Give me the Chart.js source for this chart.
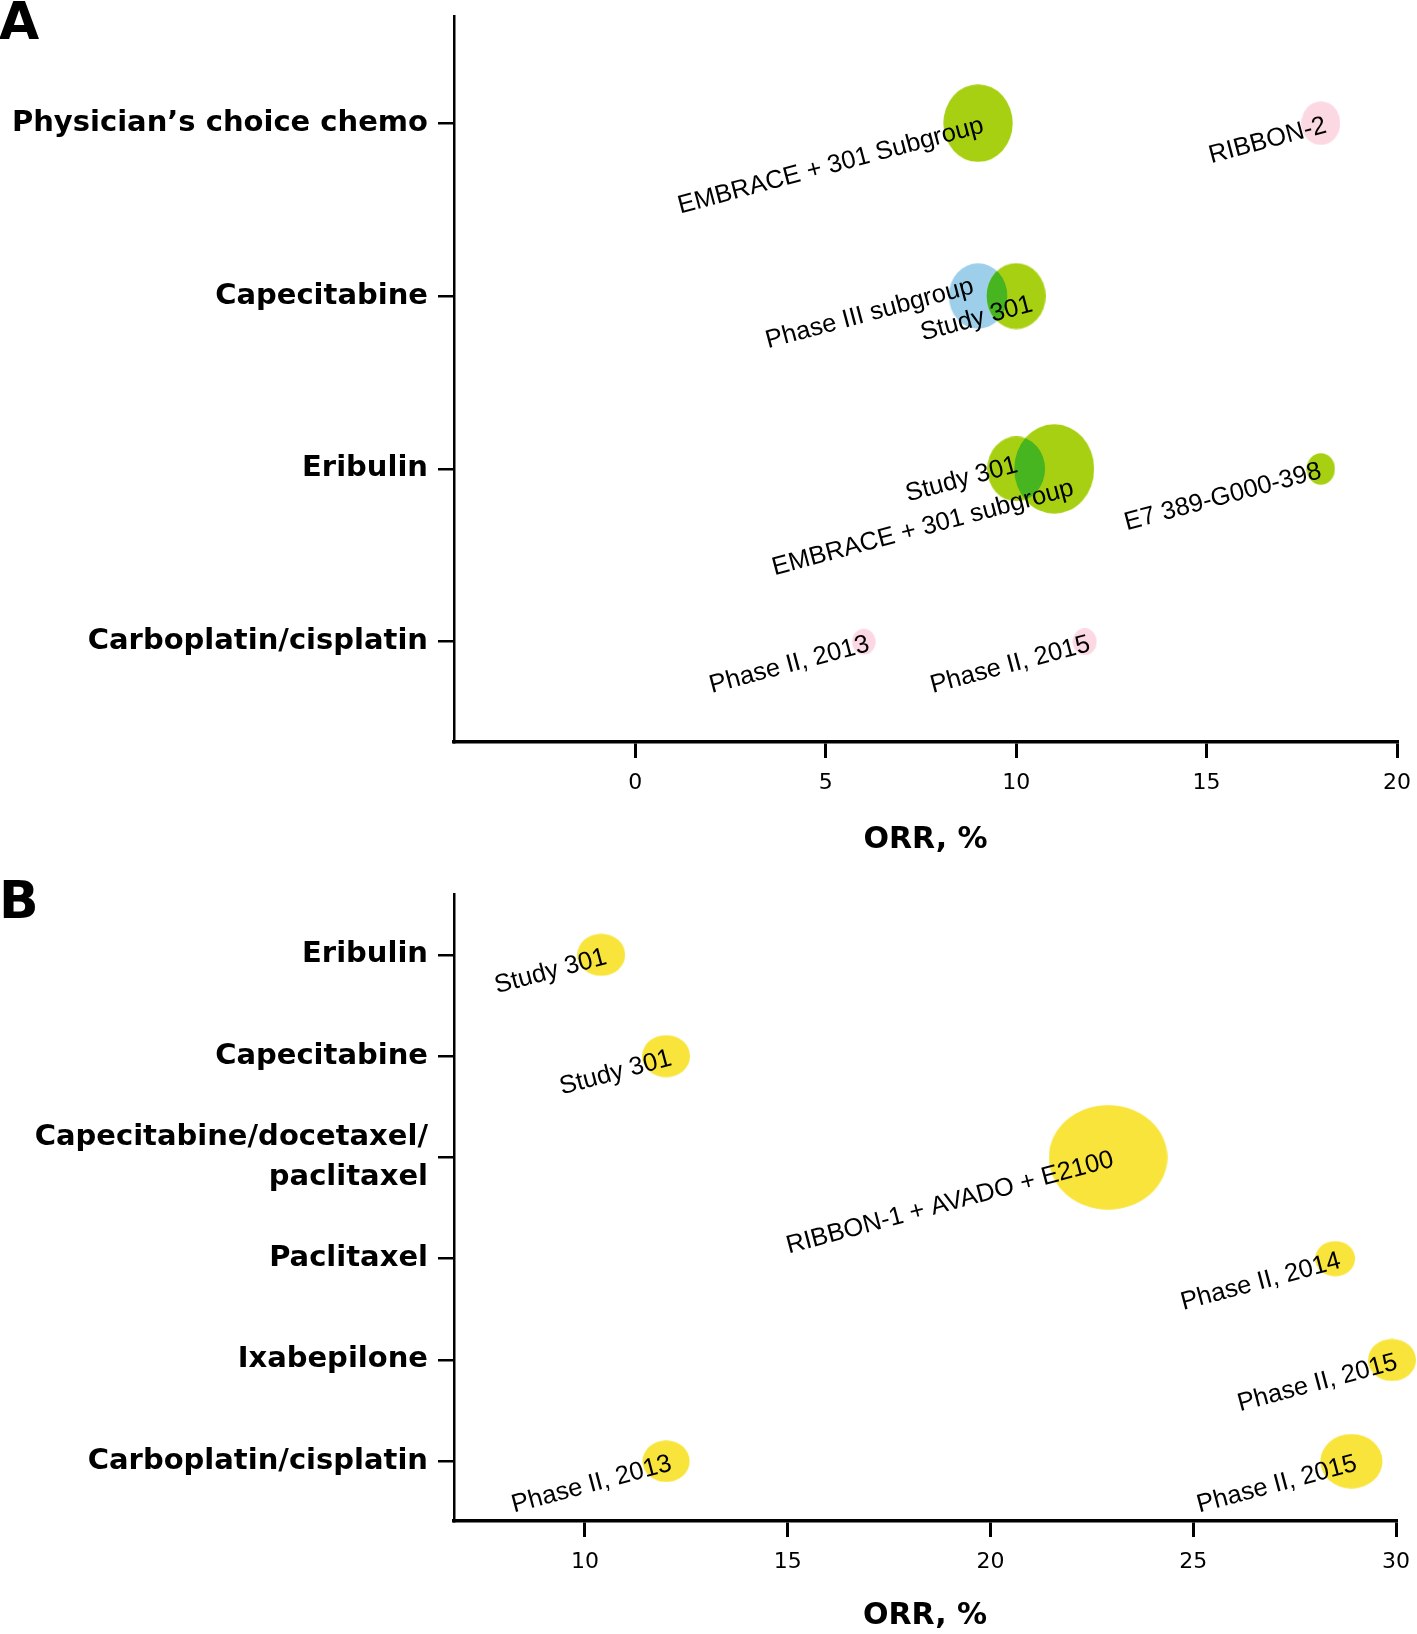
<!DOCTYPE html>
<html>
<head>
<meta charset="utf-8">
<script src="https://cdn.jsdelivr.net/npm/chart.js@4"></script>
<style>
  html, body { margin: 0; padding: 0; background: #fff; }
  #wrap { position: relative; width: 1417px; height: 1634px; }
  canvas { position: absolute; left: 0; }
  #chartA { top: 0; }
  #chartB { top: 860px; }
</style>
</head>
<body>
<div id="wrap">
  <canvas id="chartA" width="1417" height="860"></canvas>
  <canvas id="chartB" width="1417" height="774"></canvas>
</div>
<script>
// Panel A
const categoriesA = ['Physician’s choice chemo', 'Capecitabine', 'Eribulin', 'Carboplatin/cisplatin'];
const studiesA = ['EMBRACE + 301 Subgroup', 'RIBBON-2', 'Phase III subgroup', 'Study 301', 'Study 301',
  'EMBRACE + 301 subgroup', 'E7 389-G000-398', 'Phase II, 2013', 'Phase II, 2015'];
const rowsA = [0, 0, 1, 1, 2, 2, 2, 3, 3];
const orrA = [9, 18, 9, 10, 10, 11, 18, 6, 11.8];
const sizesA = [36.7, 20.6, 31, 31.2, 30.6, 42.3, 14.9, 12.4, 12.7];
const groupsA = ['green', 'pink', 'blue', 'green', 'green', 'green', 'green', 'pink', 'pink'];
const xTicksA = [0, 5, 10, 15, 20];
const xRangeA = [-4.76, 20];
const yRangeA = [-0.62, 3.58];

// Panel B
const categoriesB = ['Eribulin', 'Capecitabine', ['Capecitabine/docetaxel/', 'paclitaxel'], 'Paclitaxel',
  'Ixabepilone', 'Carboplatin/cisplatin'];
const studiesB = ['Study 301', 'Study 301', 'RIBBON-1 + AVADO + E2100', 'Phase II, 2014', 'Phase II, 2015',
  'Phase II, 2013', 'Phase II, 2015'];
const rowsB = [0, 1, 2, 3, 4, 5, 5];
const orrB = [10.4, 12, 22.9, 28.5, 29.9, 12, 28.9];
const sizesB = [22.5, 22.5, 55.6, 18.7, 22.5, 22.1, 29.1];
const groupsB = ['yellow', 'yellow', 'yellow', 'yellow', 'yellow', 'yellow', 'yellow'];
const xTicksB = [10, 15, 20, 25, 30];
const xRangeB = [6.77, 30];
const yRangeB = [-0.6, 5.59];

const FONT = '"DejaVu Sans", sans-serif';
const NOTE_FONT = '"Liberation Sans", Arial, sans-serif';
const colours = { green: '#a8d012', blue: '#9dcfeb', pink: '#fcd9e2', yellow: '#f8e43a' };
const OVERLAP = '#47b51f';

// bubbles in the source are slightly oval; draw them as ellipse sprites
const sprites = {};
function sprite(r, k, colour){
  const key = r + '|' + k + '|' + colour;
  if (sprites[key]) return sprites[key];
  const rx = r / Math.sqrt(k), ry = r * Math.sqrt(k);
  const c = document.createElement('canvas');
  c.width = Math.ceil(rx * 2);
  c.height = Math.ceil(ry * 2);
  const g = c.getContext('2d');
  g.fillStyle = colour;
  g.beginPath();
  g.ellipse(c.width / 2, c.height / 2, rx, ry, 0, 0, Math.PI * 2);
  g.fill();
  return (sprites[key] = c);
}

function datasetsFor(names, rows, orr, sizes, groups, k){
  const order = [...new Set(groups)];
  return order.map(g => ({
    label: g,
    data: names.map((n, i) => ({ x: orr[i], y: rows[i], r: sizes[i], name: n }))
               .filter((_, i) => groups[i] === g),
    backgroundColor: colours[g],
    borderWidth: 0,
    pointStyle: c => (c.raw ? sprite(c.raw.r, k, colours[g]) : 'circle'),
    clip: false
  }));
}

// overlap lens, rotated study labels, panel letter
function notesPlugin(p){
  return {
    id: 'studyNotes',
    afterDatasetsDraw(chart){
      const ctx = chart.ctx;
      const k = p.stretch;
      const pts = [];
      chart.data.datasets.forEach((ds, di) => {
        chart.getDatasetMeta(di).data.forEach((el, i) => pts.push({ x: el.x, y: el.y, d: ds.data[i] }));
      });
      const ell = (q) => {
        ctx.beginPath();
        ctx.ellipse(q.x, q.y, q.d.r / Math.sqrt(k), q.d.r * Math.sqrt(k), 0, 0, Math.PI * 2);
      };
      pts.forEach((a, i) => pts.slice(i + 1).forEach(b => {
        if (a.d.y !== b.d.y) return;
        if (Math.abs(a.x - b.x) >= (a.d.r + b.d.r) / Math.sqrt(k)) return;
        ctx.save();
        ell(a); ctx.clip();
        ell(b); ctx.fillStyle = OVERLAP; ctx.fill();
        ctx.restore();
      }));

      ctx.save();
      ctx.fillStyle = '#000';
      ctx.font = '25.5px ' + NOTE_FONT;
      ctx.textAlign = 'right';
      ctx.textBaseline = 'middle';
      pts.forEach(q => {
        const [dx, dy] = p.nudge[p.cats[q.d.y] + '|' + q.d.name] || [5, 2];
        ctx.save();
        ctx.translate(q.x + dx, q.y + dy);
        ctx.rotate(-15 * Math.PI / 180);
        ctx.fillText(q.d.name, 0, 0);
        ctx.restore();
      });
      ctx.restore();
    },
    afterDraw(chart){
      const ctx = chart.ctx;
      ctx.save();
      ctx.fillStyle = '#000';
      ctx.font = 'bold 52px ' + FONT;
      ctx.textAlign = 'left';
      ctx.textBaseline = 'alphabetic';
      ctx.fillText(p.letter, -1, p.letterY);
      ctx.restore();
    }
  };
}

function makeChart(id, p){
  return new Chart(document.getElementById(id), {
    type: 'bubble',
    data: { datasets: p.datasets },
    options: {
      responsive: false,
      animation: false,
      events: [],
      layout: { autoPadding: false, padding: { top: p.top, right: p.right, left: 0, bottom: 0 } },
      plugins: { legend: { display: false }, tooltip: { enabled: false } },
      scales: {
        x: {
          type: 'linear', min: p.xRange[0], max: p.xRange[1],
          afterBuildTicks: s => { s.ticks = p.xTicks.map(v => ({ value: v })); },
          afterFit: s => { s.height = p.axisH; s.paddingLeft = 0; s.paddingRight = 0; },
          ticks: { color: '#000', font: { family: FONT, size: 22 }, padding: 12, autoSkip: false, maxRotation: 0 },
          grid: { drawOnChartArea: false, tickLength: 16, color: '#000', lineWidth: 3 },
          border: { color: '#000', width: 3.5 },
          title: {
            display: true, text: 'ORR, %', color: '#000',
            font: { family: FONT, size: 30, weight: 'bold', lineHeight: 1.2 },
            padding: { top: 0, bottom: p.titlePad }
          }
        },
        y: {
          type: 'linear', reverse: true, min: p.yRange[0], max: p.yRange[1],
          afterBuildTicks: s => { s.ticks = p.cats.map((_, i) => ({ value: i })); },
          afterFit: s => { s.width = 454; s.paddingTop = 0; s.paddingBottom = 0; },
          ticks: {
            color: '#000', font: { family: FONT, size: 29, weight: 'bold', lineHeight: 1.4 },
            padding: 10, autoSkip: false, callback: (v, i) => p.cats[i]
          },
          grid: { drawOnChartArea: false, tickLength: 16, color: '#000', lineWidth: 2.5 },
          border: { color: '#000', width: 2.5 }
        }
      }
    },
    plugins: [notesPlugin(p)]
  });
}

makeChart('chartA', {
  datasets: datasetsFor(studiesA, rowsA, orrA, sizesA, groupsA, 1.12),
  cats: categoriesA, xTicks: xTicksA, xRange: xRangeA, yRange: yRangeA,
  top: 16, right: 20, axisH: 118, titlePad: 2, stretch: 1.12,
  letter: 'A', letterY: 39,
  nudge: {
    'Capecitabine|Phase III subgroup': [-5, -10],
    'Capecitabine|Study 301': [16, 8],
    'Eribulin|Study 301': [1, -4],
    'Eribulin|EMBRACE + 301 subgroup': [19, 19],
    'Eribulin|E7 389-G000-398': [0, 2]
  }
});

makeChart('chartB', {
  datasets: datasetsFor(studiesB, rowsB, orrB, sizesB, groupsB, 0.88),
  cats: categoriesB, xTicks: xTicksB, xRange: xRangeB, yRange: yRangeB,
  top: 34, right: 21, axisH: 113, titlePad: 0, stretch: 0.88,
  letter: 'B', letterY: 58,
  nudge: {}
});
</script>
</body>
</html>
